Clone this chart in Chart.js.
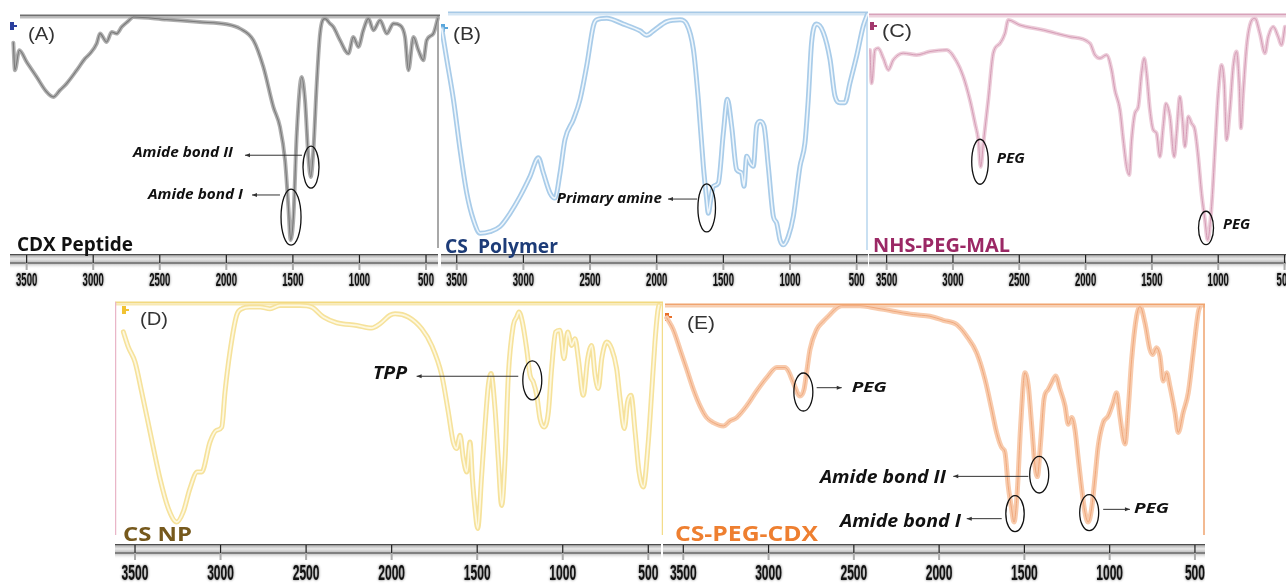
<!DOCTYPE html>
<html>
<head>
<meta charset="utf-8">
<script src="https://cdn.jsdelivr.net/npm/chart.js@4.4.1/dist/chart.umd.min.js"></script>
<style>
  body { margin: 0; background: #fff; width: 1286px; height: 583px; overflow: hidden; position: relative; }
  canvas { position: absolute; }
</style>
</head>
<body>
<canvas id="pA"></canvas>
<canvas id="pB"></canvas>
<canvas id="pC"></canvas>
<canvas id="pD"></canvas>
<canvas id="pE"></canvas>
<script>
// wavenumber tick labels (cm-1)
const tickLabels = [3500, 3000, 2500, 2000, 1500, 1000, 500];

// (A) CDX peptide - wavenumber / transmittance (%)
const cdxWave = [3600, 3588, 3555, 3500, 3425, 3350, 3300, 3250, 3200, 3124, 3062, 3024, 2974, 2949, 2899, 2861, 2824, 2786, 2736, 2699,
  2448, 2198, 1997, 1897, 1797, 1722, 1647, 1597, 1559, 1534, 1517, 1496, 1471, 1434, 1409, 1384, 1366, 1346, 1321, 1296,
  1259, 1221, 1196, 1146, 1083, 1046, 1008, 971, 933, 895, 845, 795, 745, 695, 658, 632, 595, 557, 520, 495, 445, 412];
const cdxT = [88.8, 77.2, 85.6, 80.7, 74.4, 68.1, 66.0, 68.8, 71.6, 77.2, 82.1, 84.2, 88.4, 92.6, 89.1, 93.3, 92.6, 95.4, 97.9, 99.6,
  98.5, 97.5, 96.5, 94.7, 89.8, 78.6, 61.8, 53.4, 39.4, 19.9, 5.9, 15.7, 50.6, 74.4, 64.6, 40.8, 32.4, 43.6, 71.6, 92.6,
  98.9, 96.8, 95.4, 89.8, 84.2, 91.2, 87.0, 94.0, 98.9, 94.0, 98.2, 92.6, 96.8, 96.1, 91.2, 77.2, 91.2, 85.6, 81.4, 89.8, 92.6, 98.9];

// (B) CS polymer
const csWave = [3612, 3575, 3525, 3475, 3425, 3375, 3325, 3250, 3175, 3100, 3025, 2950, 2888, 2850, 2800, 2763, 2725, 2688, 2625, 2575,
  2525, 2475, 2450, 2375, 2250, 2125, 2075, 2025, 1925, 1825, 1775, 1725, 1688, 1650, 1625, 1613, 1595, 1575, 1538, 1500,
  1470, 1438, 1400, 1363, 1345, 1325, 1300, 1275, 1250, 1225, 1195, 1163, 1125, 1100, 1075, 1050, 1013, 975, 925, 888,
  863, 838, 800, 750, 700, 663, 625, 588, 550, 500, 450, 418];
const csT = [93.3, 80.8, 64.2, 43.3, 25.3, 14.2, 8.6, 9.3, 11.4, 16.9, 23.9, 32.2, 39.9, 33.6, 25.3, 23.2, 33.6, 47.5, 55.8, 64.2,
  78.1, 94.7, 97.2, 97.8, 95.4, 92.6, 90.8, 92.6, 96.4, 97.2, 95.4, 85.0, 64.2, 36.4, 22.5, 16.9, 22.5, 28.1, 29.4, 50.3,
  64.2, 53.1, 35.0, 33.6, 28.1, 40.6, 37.8, 36.4, 53.1, 55.1, 53.1, 36.4, 15.6, 12.8, 5.8, 3.8, 7.2, 15.6, 36.4, 46.1,
  64.2, 87.8, 95.4, 91.9, 80.8, 65.6, 62.8, 62.8, 71.1, 82.2, 94.7, 99.6];

// (C) NHS-PEG-MAL
const pegWave = [3626, 3613, 3588, 3563, 3525, 3487, 3450, 3374, 3274, 3173, 3048, 2972, 2922, 2872, 2834, 2809, 2791, 2771, 2734, 2696,
  2646, 2608, 2583, 2495, 2319, 2118, 1967, 1930, 1892, 1842, 1804, 1779, 1741, 1716, 1691, 1671, 1653, 1628, 1603, 1578,
  1558, 1540, 1515, 1490, 1465, 1440, 1415, 1394, 1364, 1332, 1314, 1289, 1269, 1251, 1226, 1201, 1176, 1151, 1126, 1100,
  1080, 1050, 1025, 1000, 975, 955, 937, 912, 887, 862, 842, 829, 812, 786, 761, 723, 686, 648, 623, 585, 548, 523, 497];
const pegT = [85.4, 71.4, 85.4, 86.1, 81.9, 77.0, 81.2, 84.0, 83.3, 84.7, 85.4, 80.5, 74.2, 64.4, 54.7, 47.7, 36.5, 46.3, 64.4, 84.0,
  88.1, 92.3, 97.9, 95.8, 93.7, 90.9, 88.1, 83.3, 81.9, 83.3, 77.0, 68.6, 60.3, 47.7, 36.5, 33.1, 47.7, 58.9, 61.6, 75.6,
  81.9, 75.6, 60.3, 51.9, 50.5, 40.7, 53.3, 63.0, 57.5, 40.7, 50.5, 65.8, 56.1, 44.9, 57.5, 54.7, 51.9, 40.7, 25.4, 14.2,
  5.9, 19.8, 43.5, 67.2, 79.1, 71.4, 47.7, 60.3, 78.4, 84.7, 71.4, 52.6, 67.2, 86.8, 95.8, 98.6, 92.3, 84.0, 90.9, 95.1, 90.9, 87.4, 95.1];

// (D) CS NP
const npWave = [3568, 3539, 3500, 3461, 3412, 3354, 3305, 3256, 3218, 3179, 3136, 3110, 3062, 3023, 2993, 2974, 2945, 2906, 2876, 2828,
  2769, 2711, 2652, 2536, 2467, 2399, 2321, 2204, 2117, 2068, 2010, 1980, 1903, 1824, 1766, 1707, 1669, 1640, 1620, 1600,
  1581, 1561, 1542, 1528, 1513, 1497, 1474, 1454, 1435, 1419, 1396, 1377, 1357, 1337, 1318, 1289, 1269, 1256, 1236, 1211,
  1191, 1172, 1152, 1133, 1109, 1084, 1065, 1041, 1016, 993, 971, 948, 928, 909, 880, 854, 831, 811, 792, 772,
  743, 714, 685, 665, 640, 621, 601, 577, 554, 529, 500, 480, 461, 445, 438];
const npT = [88.0, 81.7, 75.5, 63.1, 46.5, 27.1, 14.7, 9.1, 13.3, 23.0, 29.9, 29.9, 42.3, 47.2, 48.5, 63.1, 79.7, 94.9, 97.6, 98.3,
  98.3, 97.6, 99.0, 99.0, 98.3, 94.2, 91.8, 90.7, 89.6, 91.4, 94.9, 95.5, 94.2, 89.3, 82.4, 70.0, 54.8, 42.3, 39.6, 45.1,
  35.4, 29.9, 42.3, 27.1, 14.7, 6.4, 28.5, 49.2, 65.8, 70.7, 56.2, 35.4, 16.0, 35.4, 70.0, 90.7, 94.2, 96.3, 92.1, 81.0,
  70.0, 67.2, 61.7, 52.0, 48.5, 54.8, 72.8, 88.0, 88.7, 76.9, 88.0, 82.4, 85.2, 76.9, 61.7, 76.9, 82.4, 70.0, 64.5, 76.9,
  83.8, 81.0, 72.8, 60.3, 47.9, 58.9, 61.7, 46.5, 29.9, 23.7, 42.3, 63.1, 83.8, 96.3, 99.0];

// (E) CS-PEG-CDX
const conjWave = [3597, 3559, 3519, 3480, 3441, 3402, 3363, 3324, 3265, 3226, 3187, 3128, 3070, 3011, 2952, 2904, 2884, 2855, 2816, 2792,
  2777, 2757, 2718, 2679, 2640, 2601, 2571, 2464, 2405, 2269, 2151, 2054, 1976, 1897, 1838, 1780, 1731, 1692, 1663, 1633,
  1614, 1595, 1575, 1561, 1542, 1522, 1497, 1477, 1457, 1438, 1424, 1405, 1385, 1360, 1340, 1317, 1291, 1262, 1243, 1223,
  1204, 1184, 1164, 1145, 1126, 1106, 1087, 1067, 1038, 1008, 979, 959, 940, 920, 910, 891, 871, 842, 822, 793,
  764, 748, 725, 705, 686, 666, 647, 617, 598, 569, 539, 510, 481, 471];
const conjT = [94.6, 89.7, 81.4, 73.1, 64.7, 57.8, 52.9, 50.8, 49.4, 51.5, 52.9, 57.8, 64.0, 69.6, 73.8, 73.8, 72.4, 67.5, 61.9, 64.7,
  71.7, 81.4, 89.7, 93.2, 96.0, 98.8, 99.7, 99.7, 99.2, 97.4, 96.0, 95.3, 93.6, 91.8, 86.9, 80.0, 68.9, 56.4, 46.7, 40.4,
  38.3, 24.4, 14.7, 9.2, 21.7, 49.4, 71.7, 66.1, 49.4, 32.8, 28.2, 42.5, 60.6, 64.7, 67.5, 70.3, 64.7, 57.8, 50.1, 52.9,
  48.1, 35.6, 23.1, 13.3, 9.2, 14.7, 27.2, 41.1, 50.8, 53.6, 59.2, 63.3, 53.6, 43.9, 41.8, 56.4, 77.2, 95.3, 99.4, 92.5,
  81.4, 79.3, 82.1, 78.6, 68.2, 71.7, 66.1, 55.0, 46.7, 55.0, 63.3, 80.0, 96.7, 99.4];

const panels = [
  { id: 'pA', left: 10, top: 0, width: 430, height: 292, padTop: 16, padBottom: 38, wLeft: 3625, wRight: 395,
    wave: cdxWave, trans: cdxT, outer: 'rgba(165,165,165,0.9)', outerW: 4, inner: '#7a7a7a', innerW: 1.1,
    frame: { color: '#707070', color2: '#bdbdbd', x0: 10, x1: 430, sides: [{ x: 428, y0: 16, y1: 248, c: '#8c8c8c' }] },
    bar: { x0: 0, x1: 428, labelDy: 27, labelH: 19, digitW: 5.3 },
    title: { text: 'CDX Peptide', x: 7, y: 251, w: 116, size: 20, color: '#111' },
    letter: { text: '(A)', x: 18, y: 35, w: 27 }, icon: { x: 0, y: 22, c: '#2b3f9e' },
    ellipses: [{ w: 1514, t: 15.5, rx: 10, ry: 28 }, { w: 1364, t: 36.5, rx: 8, ry: 21 }],
    arrows: [{ w1: 1432, w2: 1860, t: 41.5 }, { w1: 1597, w2: 1807, t: 24.8 }],
    notes: [{ text: 'Amide bond II', w: 1950, t: 42.4, align: 'right', width: 100, size: 14 },
            { text: 'Amide bond I', w: 1875, t: 24.8, align: 'right', width: 95, size: 14 }] },
  { id: 'pB', left: 441, top: 0, width: 427, height: 292, padTop: 13, padBottom: 38, wLeft: 3618, wRight: 415,
    wave: csWave, trans: csT, outer: '#a9cce9', outerW: 5, inner: '#eef6fc', innerW: 1.6,
    frame: { color: '#a7c9e6', color2: '#d3e6f5', x0: 7, x1: 427, sides: [{ x: 426, y0: 13, y1: 250, c: '#b8d6ee' }] },
    bar: { x0: 0, x1: 427, labelDy: 27, labelH: 19, digitW: 5.3 },
    title: { text: 'CS  Polymer', x: 4, y: 253, w: 113, size: 20, color: '#1d3c78' },
    letter: { text: '(B)', x: 12, y: 35, w: 28 }, icon: { x: 0, y: 24, c: '#5aa7dc' },
    ellipses: [{ w: 1625, t: 19.1, rx: 8.8, ry: 24 }],
    arrows: [{ w1: 1697, w2: 1915, t: 22.8 }],
    notes: [{ text: 'Primary amine', w: 1962, t: 22.8, align: 'right', width: 105, size: 15 }] },
  { id: 'pC', left: 869, top: 0, width: 417, height: 292, padTop: 15, padBottom: 38, wLeft: 3633, wRight: 489,
    wave: pegWave, trans: pegT, outer: '#ecccd9', outerW: 4, inner: '#d59cb6', innerW: 1,
    frame: { color: '#d8a2ba', color2: '#eed3de', x0: 0, x1: 417, sides: [] },
    bar: { x0: 0, x1: 417, labelDy: 27, labelH: 19, digitW: 5.3 },
    title: { text: 'NHS-PEG-MAL', x: 4, y: 252, w: 137, size: 20, color: '#9b2865' },
    letter: { text: '(C)', x: 13, y: 32, w: 30 }, icon: { x: 1, y: 22, c: '#a3386d' },
    ellipses: [{ w: 2796, t: 38.6, rx: 8.3, ry: 22.5 }, { w: 1092, t: 10.9, rx: 7.5, ry: 16.7 }],
    arrows: [],
    notes: [{ text: 'PEG', w: 2670, t: 39.7, align: 'left', width: 28, size: 14 },
            { text: 'PEG', w: 964, t: 12.1, align: 'left', width: 27, size: 14 }] },
  { id: 'pD', left: 115, top: 292, width: 548, height: 291, padTop: 11, padBottom: 39, wLeft: 3617, wRight: 414,
    wave: npWave, trans: npT, outer: '#f6e29b', outerW: 5, inner: '#fdf8e0', innerW: 1.8,
    frame: { color: '#f2d980', color2: '#f8e9b3', x0: 0, x1: 548,
             sides: [{ x: 0.5, y0: 10, y1: 243, c: '#e9b6c8' }, { x: 547.5, y0: 11, y1: 243, c: '#f3dc8a' }] },
    bar: { x0: 0, x1: 546, labelDy: 30, labelH: 22, digitW: 6.7 },
    title: { text: 'CS NP', x: 8, y: 249, w: 69, size: 20, color: '#76591d' },
    letter: { text: '(D)', x: 25, y: 28, w: 28 }, icon: { x: 7, y: 14, c: '#f1c232' },
    ellipses: [{ w: 1178, t: 67.9, rx: 9.5, ry: 19.5 }],
    arrows: [{ w1: 1260, w2: 1854, t: 69.6 }],
    notes: [{ text: 'TPP', w: 1910, t: 70.5, align: 'right', width: 34, size: 18 }] },
  { id: 'pE', left: 663, top: 292, width: 542, height: 291, padTop: 13, padBottom: 39, wLeft: 3619, wRight: 441,
    wave: conjWave, trans: conjT, outer: '#f8cbad', outerW: 5, inner: '#f0a87c', innerW: 1,
    frame: { color: '#f0a46f', color2: '#f8cdae', x0: 2, x1: 542, sides: [{ x: 541, y0: 13, y1: 243, c: '#f0a46f' }] },
    bar: { x0: 0, x1: 542, labelDy: 30, labelH: 22, digitW: 6.7 },
    title: { text: 'CS-PEG-CDX', x: 12, y: 249, w: 143, size: 21, color: '#ee7f30' },
    letter: { text: '(E)', x: 24, y: 32, w: 28 }, icon: { x: 2, y: 21, c: '#e8702a' },
    ellipses: [{ w: 2796, t: 63.6, rx: 9.5, ry: 19 }, { w: 1413, t: 29.0, rx: 9.5, ry: 18.3 },
               { w: 1555, t: 12.7, rx: 9.2, ry: 18 }, { w: 1120, t: 13.1, rx: 9.5, ry: 18 }],
    arrows: [{ w1: 2718, w2: 2571, t: 65.4 }, { w1: 1477, w2: 1917, t: 28.3 },
             { w1: 1633, w2: 1838, t: 10.6 }, { w1: 1038, w2: 881, t: 14.5 }],
    notes: [{ text: 'PEG', w: 2513, t: 65.3, align: 'left', width: 35, size: 15 },
            { text: 'Amide bond II', w: 1960, t: 27.6, align: 'right', width: 126, size: 17 },
            { text: 'Amide bond I', w: 1872, t: 9.2, align: 'right', width: 121, size: 17 },
            { text: 'PEG', w: 858, t: 14.6, align: 'left', width: 35, size: 15 }] }
];

function fitText(ctx, text, x, y, width, font, color, align, baseline) {
  ctx.save();
  ctx.font = font;
  const s = width / ctx.measureText(text).width;
  ctx.translate(x, y);
  ctx.scale(s, 1);
  ctx.textAlign = align;
  ctx.textBaseline = baseline;
  ctx.fillStyle = color;
  ctx.fillText(text, 0, 0);
  ctx.restore();
}

function arrow(ctx, x1, y1, x2, y2) {
  ctx.beginPath(); ctx.moveTo(x1, y1); ctx.lineTo(x2, y2); ctx.stroke();
  const a = Math.atan2(y2 - y1, x2 - x1);
  ctx.beginPath();
  ctx.moveTo(x2, y2);
  ctx.lineTo(x2 - 5 * Math.cos(a) + 2 * Math.sin(a), y2 - 5 * Math.sin(a) - 2 * Math.cos(a));
  ctx.lineTo(x2 - 5 * Math.cos(a) - 2 * Math.sin(a), y2 - 5 * Math.sin(a) + 2 * Math.cos(a));
  ctx.closePath(); ctx.fill();
}

function decor(p) {
  return {
    id: 'decor' + p.id,
    beforeDatasetsDraw(chart) {
      const ctx = chart.ctx, top = chart.chartArea.top, f = p.frame;
      ctx.save();
      ctx.fillStyle = f.color;
      ctx.fillRect(f.x0, top - 1.5, f.x1 - f.x0, 2);
      ctx.fillStyle = f.color2;
      ctx.fillRect(f.x0, top + 1, f.x1 - f.x0, 1.5);
      f.sides.forEach(s => { ctx.fillStyle = s.c; ctx.fillRect(s.x - 0.75, s.y0, 1.5, s.y1 - s.y0); });
      // small marker at top-left
      ctx.fillStyle = p.icon.c;
      ctx.fillRect(p.icon.x, p.icon.y, 4, 8);
      ctx.fillRect(p.icon.x + 4, p.icon.y + 3, 3, 2);
      ctx.restore();
    },
    afterDatasetsDraw(chart) {
      const ctx = chart.ctx, xs = chart.scales.x, ys = chart.scales.y;
      const bottom = chart.chartArea.bottom, b = p.bar;
      ctx.save();
      // axis bar
      ctx.fillStyle = '#4d4d4d';
      ctx.fillRect(b.x0, bottom, b.x1 - b.x0, 1.6);
      let g = ctx.createLinearGradient(0, bottom + 1.6, 0, bottom + 8);
      g.addColorStop(0, '#b4b4b4'); g.addColorStop(0.5, '#e9e9e9'); g.addColorStop(1, '#c2c2c2');
      ctx.fillStyle = g;
      ctx.fillRect(b.x0, bottom + 1.6, b.x1 - b.x0, 6.4);
      ctx.fillStyle = '#808080';
      ctx.fillRect(b.x0, bottom + 8, b.x1 - b.x0, 2);
      g = ctx.createLinearGradient(0, bottom + 10, 0, bottom + 15);
      g.addColorStop(0, '#c9c9c9'); g.addColorStop(1, 'rgba(255,255,255,0)');
      ctx.fillStyle = g;
      ctx.fillRect(b.x0, bottom + 10, b.x1 - b.x0, 5);
      // ticks and labels
      tickLabels.forEach(v => {
        const px = xs.getPixelForValue(v);
        ctx.fillStyle = '#aaa';
        ctx.fillRect(px - 1, bottom + 8, 2, 8);
        ctx.fillStyle = '#222';
        ctx.fillRect(px - 0.6, bottom + 1, 1.2, 8);
        const txt = String(v);
        ctx.save();
        ctx.shadowColor = 'rgba(70,70,70,0.9)';
        ctx.shadowBlur = 2.5;
        fitText(ctx, txt, px, bottom + b.labelDy, txt.length * b.digitW,
          'bold ' + b.labelH + 'px "Liberation Sans", Arial, sans-serif', '#111', 'center', 'middle');
        ctx.restore();
      });
      // annotations
      ctx.strokeStyle = '#111'; ctx.lineWidth = 1.3;
      p.ellipses.forEach(e => {
        ctx.beginPath();
        ctx.ellipse(xs.getPixelForValue(e.w), ys.getPixelForValue(e.t), e.rx, e.ry, 0, 0, Math.PI * 2);
        ctx.stroke();
      });
      ctx.strokeStyle = '#333'; ctx.fillStyle = '#333'; ctx.lineWidth = 1;
      p.arrows.forEach(a => {
        const y = ys.getPixelForValue(a.t);
        arrow(ctx, xs.getPixelForValue(a.w1), y, xs.getPixelForValue(a.w2), y);
      });
      p.notes.forEach(n => {
        fitText(ctx, n.text, xs.getPixelForValue(n.w), ys.getPixelForValue(n.t), n.width,
          'italic bold ' + n.size + 'px "Open Sans", sans-serif', '#111', n.align, 'middle');
      });
      // panel title and letter
      const t = p.title;
      fitText(ctx, t.text, t.x, t.y, t.w, 'bold ' + t.size + 'px "Open Sans", sans-serif', t.color, 'left', 'alphabetic');
      const l = p.letter;
      fitText(ctx, l.text, l.x, l.y, l.w, '18px "Liberation Sans", Arial, sans-serif', '#333', 'left', 'middle');
      ctx.restore();
    }
  };
}

panels.forEach(p => {
  const cv = document.getElementById(p.id);
  cv.width = p.width; cv.height = p.height;
  cv.style.left = p.left + 'px'; cv.style.top = p.top + 'px';
  const pts = p.wave.map((w, i) => ({ x: w, y: p.trans[i] }));
  new Chart(cv, {
    type: 'line',
    data: {
      datasets: [
        // thin core on top of the wide pale band
        { data: pts, borderColor: p.inner, borderWidth: p.innerW, order: 0 },
        { data: pts, borderColor: p.outer, borderWidth: p.outerW, order: 1 }
      ]
    },
    options: {
      responsive: false, animation: false, events: [], devicePixelRatio: 1,
      layout: { padding: { top: p.padTop, bottom: p.padBottom, left: 0, right: 0 } },
      plugins: { legend: { display: false }, tooltip: { enabled: false } },
      elements: { point: { radius: 0 }, line: { cubicInterpolationMode: 'monotone', borderJoinStyle: 'round', borderCapStyle: 'round' } },
      scales: {
        x: { type: 'linear', reverse: true, min: p.wRight, max: p.wLeft, display: false },
        y: { min: 0, max: 100, display: false }
      }
    },
    plugins: [decor(p)]
  });
});
</script>
</body>
</html>
